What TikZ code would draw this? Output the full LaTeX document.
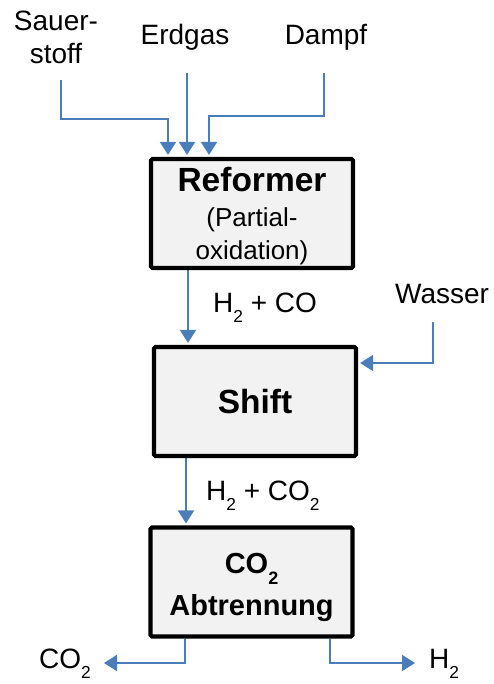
\documentclass[tikz,border=0pt]{standalone}
\usepackage{fontspec}
\setmainfont{Liberation Sans}
\usetikzlibrary{arrows.meta,backgrounds}
\definecolor{flowblue}{HTML}{4A7EBB}
\definecolor{boxfill}{HTML}{F2F2F2}
\newcommand{\lsub}[1]{\raisebox{-0.38em}{\scalebox{0.62}{#1}}}
\tikzset{
 proc/.style={draw=black, line width=4.2pt, fill=boxfill, rounded corners=1.5pt, minimum width=202pt, minimum height=109pt, inner sep=0pt, align=center},
 flow/.style={draw=flowblue, line width=2pt, -{Triangle[length=13pt,width=16pt]}, shorten >=2pt},
 lbl/.style={inner sep=0pt, font=\fontsize{28}{33}\selectfont},
}
\begin{document}
\begin{tikzpicture}[x=1pt,y=-1pt]
\useasboundingbox (0,0) rectangle (494,684);
\node[proc, font=\fontsize{26}{31}\selectfont] (ref) at (252,213.5) {\rule{0pt}{29pt}{\fontsize{33.5}{36}\selectfont\bfseries Reformer}\\[4pt](Partial-\\[2pt]oxidation)};
\node[proc, font=\fontsize{33.5}{36}\selectfont\bfseries] (shift) at (255,401.5) {Shift};
\node[proc, font=\fontsize{29}{42}\selectfont\bfseries] (sep) at (251.5,582) {\rule{0pt}{30.5pt}CO\lsub{2}\\Abtrennung};

\node[lbl, align=center] (sauer) at (56,37) {Sauer-\\stoff};
\node[lbl, anchor=base] (erdgas) at (185,45) {Erdgas};
\node[lbl, anchor=base] (dampf) at (326,45) {Dampf};
\node[lbl, anchor=base west] (h2co) at (213,312) {H\lsub{2} + CO};
\node[lbl, anchor=base west] (wasser) at (395,303) {Wasser};
\node[lbl, anchor=base west] (h2co2) at (206,500) {H\lsub{2} + CO\lsub{2}};
\node[lbl, anchor=base west] (co2out) at (39,668) {CO\lsub{2}};
\node[lbl, anchor=base west] (h2out) at (429,668) {H\lsub{2}};

\coordinate (sIn) at (61,80);
\coordinate (eIn) at (187,73);
\coordinate (dIn) at (324,73);
\coordinate (wIn) at (433,322);
\coordinate (co2End) at (104,663);
\coordinate (h2End) at (415,663);

\begin{scope}[on background layer]
\draw[flow] (sIn) |- (168,119) -- (168,119 |- ref.north);
\draw[flow] (eIn) -- (eIn |- ref.north);
\draw[flow] (dIn) |- (209,116) -- (209,116 |- ref.north);
\draw[flow] (ref.south -| 188,0) -- (shift.north -| 188,0);
\draw[flow] (wIn) |- (shift.east |- 0,363);
\draw[flow] (shift.south -| 186,0) -- (sep.north -| 186,0);
\draw[flow, shorten >=0pt] (sep.south -| 185,0) |- (co2End);
\draw[flow, shorten >=0pt] (sep.south -| 330,0) |- (h2End);
\end{scope}
\end{tikzpicture}
\end{document}
